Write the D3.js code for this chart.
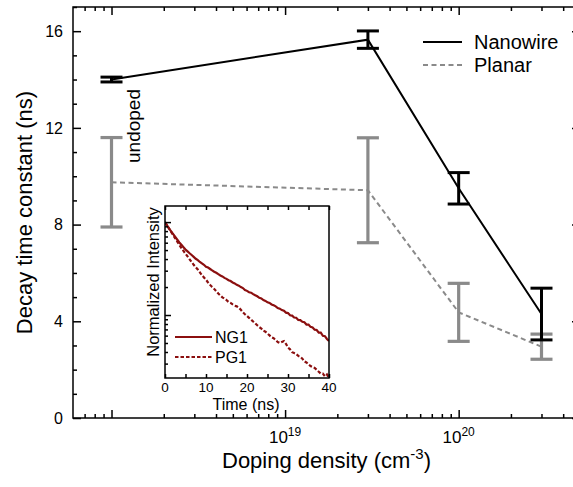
<!DOCTYPE html>
<html lang="en">
  <head>
    <meta charset="UTF-8" />
    <title>Decay time constant vs doping density</title>
    <script src="https://d3js.org/d3.v7.min.js"></script>
    <style>
      body {
        margin: 0;
        background: #fff;
        font-family: "Liberation Sans", Arial, sans-serif;
      }
      text {
        fill: #000;
      }
    </style>
  </head>
  <body>
    <div id="chart"></div>
    <script>
      // main panel data (undoped sample is plotted at 1e18)
      const densities = [1e18, 3e19, 1e20, 3e20];
      const nanowireTau = [14.0, 15.65, 9.5, 4.3];
      const nanowireErr = [0.1, 0.36, 0.65, 1.07];
      const planarTau = [9.75, 9.42, 4.37, 2.95];
      const planarErr = [1.85, 2.17, 1.2, 0.52];

      const xMajorTicks = [1e18, 1e19, 1e20];
      const xTickExponents = [null, 19, 20];
      const xMinorTicks = [7e17, 8e17, 9e17, 2e18, 3e18, 4e18, 5e18, 6e18, 7e18, 8e18, 9e18,
        2e19, 3e19, 4e19, 5e19, 6e19, 7e19, 8e19, 9e19, 2e20, 3e20, 4e20];
      const yMajorTicks = [0, 4, 8, 12, 16];
      const yMinorTicks = [1, 2, 3, 5, 6, 7, 9, 10, 11, 13, 14, 15, 17];

      // inset: normalized PL transients
      const timeNs = [0, 0.5, 1, 1.5, 2, 2.5, 3, 3.5, 4, 4.5, 5, 5.5, 6, 6.5, 7, 7.5, 8, 8.5, 9, 9.5,
        10, 10.5, 11, 11.5, 12, 12.5, 13, 13.5, 14, 14.5, 15, 15.5, 16, 16.5, 17, 17.5, 18, 18.5, 19, 19.5,
        20, 20.5, 21, 21.5, 22, 22.5, 23, 23.5, 24, 24.5, 25, 25.5, 26, 26.5, 27, 27.5, 28, 28.5, 29, 29.5,
        30, 30.5, 31, 31.5, 32, 32.5, 33, 33.5, 34, 34.5, 35, 35.5, 36, 36.5, 37, 37.5, 38, 38.5, 39, 39.5, 40];
      const ng1 = [1.0, 0.923, 0.851, 0.794, 0.741, 0.692, 0.646, 0.603, 0.569, 0.537,
        0.507, 0.484, 0.462, 0.442, 0.422, 0.403, 0.389, 0.372, 0.359, 0.347,
        0.331, 0.324, 0.313, 0.302, 0.292, 0.285, 0.275, 0.266, 0.26, 0.251,
        0.245, 0.237, 0.232, 0.224, 0.219, 0.211, 0.207, 0.2, 0.195, 0.186,
        0.182, 0.176, 0.174, 0.168, 0.163, 0.159, 0.153, 0.151, 0.145, 0.142,
        0.137, 0.135, 0.13, 0.127, 0.124, 0.119, 0.117, 0.113, 0.111, 0.106,
        0.105, 0.0995, 0.0985, 0.094, 0.0935, 0.0885, 0.088, 0.0845, 0.0835, 0.079,
        0.079, 0.0745, 0.0735, 0.0695, 0.069, 0.0645, 0.0645, 0.0598, 0.0592, 0.0552, 0.0525];
      const pg1 = [1.0, 0.923, 0.851, 0.785, 0.724, 0.668, 0.617, 0.569, 0.525, 0.49,
        0.457, 0.427, 0.398, 0.372, 0.347, 0.327, 0.309, 0.288, 0.269, 0.254,
        0.24, 0.224, 0.211, 0.2, 0.191, 0.18, 0.17, 0.162, 0.155, 0.15,
        0.145, 0.138, 0.135, 0.13, 0.126, 0.124, 0.12, 0.114, 0.107, 0.102,
        0.0977, 0.0933, 0.0891, 0.0851, 0.0813, 0.0776, 0.0741, 0.0716, 0.0676, 0.0661,
        0.0631, 0.0603, 0.0575, 0.0562, 0.0537, 0.0513, 0.0501, 0.0513, 0.0525, 0.049,
        0.0447, 0.0427, 0.0398, 0.0389, 0.038, 0.0363, 0.0355, 0.0339, 0.0316, 0.0309,
        0.0295, 0.0282, 0.0275, 0.0269, 0.0257, 0.0245, 0.0234, 0.0234, 0.0219, 0.0229, 0.0209];
      const insetTicks = [0, 5, 10, 15, 20, 25, 30, 35, 40];
      const insetLabels = [0, 10, 20, 30, 40];

      const width = 573;
      const height = 487;
      const plot = { left: 73, top: 7, right: 580, bottom: 418 };
      const ink = "#8b0f0f";
      const grey = "#8a8a8a";

      const svg = d3
        .select("#chart")
        .append("svg")
        .attr("width", width)
        .attr("height", height);

      const x = d3.scaleLog().domain([6e17, 5e20]).range([plot.left, plot.right]);
      const y = d3.scaleLinear().domain([0, 17]).range([plot.bottom, plot.top]);

      // ticks on all four sides, pointing inward
      function tickAxis(axisFn, scale, values, size, tx, ty) {
        svg
          .append("g")
          .attr("transform", `translate(${tx},${ty})`)
          .call(axisFn(scale).tickValues(values).tickSize(-size).tickFormat(""))
          .call((g) => g.select(".domain").remove())
          .call((g) => g.selectAll("line").attr("stroke-width", 1.5));
      }
      tickAxis(d3.axisBottom, x, xMajorTicks, 8, 0, plot.bottom);
      tickAxis(d3.axisBottom, x, xMinorTicks, 4, 0, plot.bottom);
      tickAxis(d3.axisTop, x, xMajorTicks, 8, 0, plot.top);
      tickAxis(d3.axisTop, x, xMinorTicks, 4, 0, plot.top);
      tickAxis(d3.axisLeft, y, yMajorTicks, 8, plot.left, 0);
      tickAxis(d3.axisLeft, y, yMinorTicks, 4, plot.left, 0);
      tickAxis(d3.axisRight, y, yMajorTicks, 8, plot.right, 0);
      tickAxis(d3.axisRight, y, yMinorTicks, 4, plot.right, 0);

      svg
        .append("rect")
        .attr("x", plot.left)
        .attr("y", plot.top)
        .attr("width", plot.right - plot.left)
        .attr("height", plot.bottom - plot.top)
        .attr("fill", "none")
        .attr("stroke", "#000")
        .attr("stroke-width", 1.5);

      // tick labels
      svg
        .selectAll(".ylab")
        .data(yMajorTicks)
        .enter()
        .append("text")
        .attr("x", plot.left - 10)
        .attr("y", (d) => y(d))
        .attr("dy", "0.36em")
        .attr("text-anchor", "end")
        .attr("font-size", 16)
        .text((d) => d);

      xMajorTicks.forEach((d, i) => {
        if (xTickExponents[i] === null) return;
        const t = svg
          .append("text")
          .attr("x", x(d))
          .attr("y", 443)
          .attr("text-anchor", "middle")
          .attr("font-size", 17);
        t.append("tspan").text("10");
        t.append("tspan").attr("dy", -7).attr("font-size", 12).text(xTickExponents[i]);
      });

      // axis titles
      const xt = svg
        .append("text")
        .attr("x", (plot.left + plot.right) / 2)
        .attr("y", 468)
        .attr("text-anchor", "middle")
        .attr("font-size", 22);
      xt.append("tspan").text("Doping density (cm");
      xt.append("tspan").attr("dy", -9).attr("font-size", 15).text("-3");
      xt.append("tspan").attr("dy", 9).text(")");

      svg
        .append("text")
        .attr("transform", `translate(32,${(plot.top + plot.bottom) / 2}) rotate(-90)`)
        .attr("text-anchor", "middle")
        .attr("font-size", 22)
        .text("Decay time constant (ns)");

      // planar series (drawn first, grey dashed)
      const planar = densities.map((d, i) => ({ x: d, v: planarTau[i], e: planarErr[i] }));
      const nanowire = densities.map((d, i) => ({ x: d, v: nanowireTau[i], e: nanowireErr[i] }));
      const line = d3
        .line()
        .x((d) => x(d.x))
        .y((d) => y(d.v));

      function errorBars(data, color, sw) {
        const g = svg.append("g").attr("stroke", color).attr("stroke-width", sw);
        data.forEach((d) => {
          const cx = x(d.x);
          g.append("line").attr("x1", cx).attr("x2", cx).attr("y1", y(d.v - d.e)).attr("y2", y(d.v + d.e));
          g.append("line").attr("x1", cx - 11).attr("x2", cx + 11).attr("y1", y(d.v + d.e)).attr("y2", y(d.v + d.e));
          g.append("line").attr("x1", cx - 11).attr("x2", cx + 11).attr("y1", y(d.v - d.e)).attr("y2", y(d.v - d.e));
        });
      }

      svg
        .append("path")
        .datum(planar)
        .attr("d", line)
        .attr("fill", "none")
        .attr("stroke", grey)
        .attr("stroke-width", 2)
        .attr("stroke-dasharray", "5,3.5");
      errorBars(planar, grey, 3.2);

      svg
        .append("path")
        .datum(nanowire)
        .attr("d", line)
        .attr("fill", "none")
        .attr("stroke", "#000")
        .attr("stroke-width", 2);
      errorBars(nanowire, "#000", 3);

      svg
        .append("text")
        .attr("transform", "translate(140,163) rotate(-90)")
        .attr("font-size", 19)
        .text("undoped");

      // legend
      const legend = [
        { name: "Nanowire", color: "#000", dash: null, y: 42 },
        { name: "Planar", color: grey, dash: "5,3.5", y: 65 },
      ];
      legend.forEach((d) => {
        svg
          .append("line")
          .attr("x1", 423)
          .attr("x2", 462)
          .attr("y1", d.y)
          .attr("y2", d.y)
          .attr("stroke", d.color)
          .attr("stroke-width", 2)
          .attr("stroke-dasharray", d.dash);
        svg
          .append("text")
          .attr("x", 474)
          .attr("y", d.y)
          .attr("dy", "0.36em")
          .attr("font-size", 20)
          .text(d.name);
      });

      // inset
      const ib = { left: 165, top: 206, right: 329, bottom: 378 };
      const ix = d3.scaleLinear().domain([0, 40]).range([ib.left, ib.right]);
      const iy = d3.scaleLog().domain([0.021, 1.49]).range([ib.bottom, ib.top]);

      svg
        .append("rect")
        .attr("x", ib.left)
        .attr("y", ib.top)
        .attr("width", ib.right - ib.left)
        .attr("height", ib.bottom - ib.top)
        .attr("fill", "#fff");

      svg
        .append("clipPath")
        .attr("id", "inset-clip")
        .append("rect")
        .attr("x", ib.left)
        .attr("y", ib.top)
        .attr("width", ib.right - ib.left)
        .attr("height", ib.bottom - ib.top);

      const iline = d3
        .line()
        .x((d) => ix(d[0]))
        .y((d) => iy(d[1]));

      svg
        .append("path")
        .datum(timeNs.map((t, i) => [t, pg1[i]]))
        .attr("d", iline)
        .attr("clip-path", "url(#inset-clip)")
        .attr("fill", "none")
        .attr("stroke", ink)
        .attr("stroke-width", 2.2)
        .attr("stroke-dasharray", "3.5,2");
      svg
        .append("path")
        .datum(timeNs.map((t, i) => [t, ng1[i]]))
        .attr("d", iline)
        .attr("clip-path", "url(#inset-clip)")
        .attr("fill", "none")
        .attr("stroke", ink)
        .attr("stroke-width", 2.2);

      tickAxis(d3.axisBottom, ix, insetTicks, 4, 0, ib.bottom);
      tickAxis(d3.axisTop, ix, insetTicks, 4, 0, ib.top);
      tickAxis(d3.axisLeft, iy, [0.1, 1], 6, ib.left, 0);
      tickAxis(d3.axisLeft, iy, [0.03, 0.04, 0.05, 0.06, 0.07, 0.08, 0.09, 0.2, 0.3, 0.4, 0.5, 0.6, 0.7, 0.8, 0.9], 3, ib.left, 0);

      svg
        .append("rect")
        .attr("x", ib.left)
        .attr("y", ib.top)
        .attr("width", ib.right - ib.left)
        .attr("height", ib.bottom - ib.top)
        .attr("fill", "none")
        .attr("stroke", "#000")
        .attr("stroke-width", 1.5);

      svg
        .selectAll(".ilab")
        .data(insetLabels)
        .enter()
        .append("text")
        .attr("x", (d) => ix(d))
        .attr("y", 392)
        .attr("text-anchor", "middle")
        .attr("font-size", 13.5)
        .text((d) => d);

      svg
        .append("text")
        .attr("x", 246)
        .attr("y", 410)
        .attr("text-anchor", "middle")
        .attr("font-size", 16)
        .text("Time (ns)");

      svg
        .append("text")
        .attr("transform", `translate(159,282) rotate(-90)`)
        .attr("text-anchor", "middle")
        .attr("font-size", 16.5)
        .text("Normalized Intensity");

      const insetLegend = [
        { name: "NG1", dash: null, y: 337 },
        { name: "PG1", dash: "3.5,2", y: 357 },
      ];
      insetLegend.forEach((d) => {
        svg
          .append("line")
          .attr("x1", 175)
          .attr("x2", 212)
          .attr("y1", d.y)
          .attr("y2", d.y)
          .attr("stroke", ink)
          .attr("stroke-width", 2)
          .attr("stroke-dasharray", d.dash);
        svg
          .append("text")
          .attr("x", 215)
          .attr("y", d.y)
          .attr("dy", "0.36em")
          .attr("font-size", 16)
          .text(d.name);
      });
    </script>
  </body>
</html>
